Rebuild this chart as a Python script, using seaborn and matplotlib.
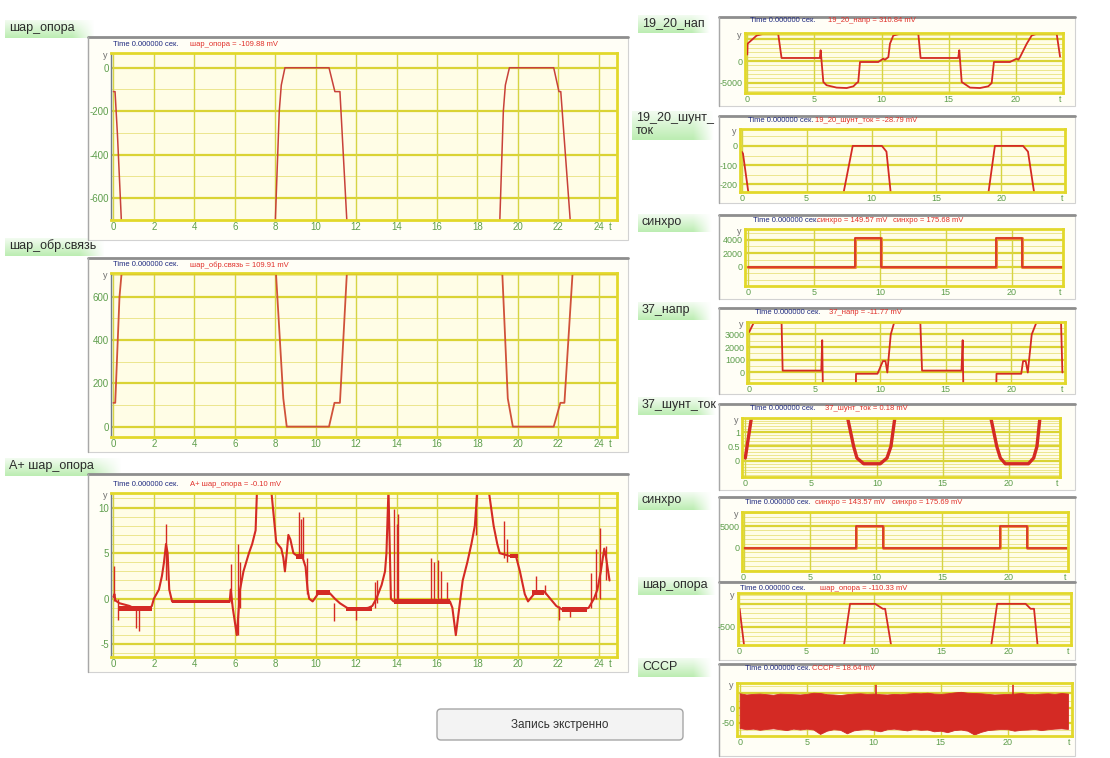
import numpy as np
import matplotlib
matplotlib.use("Agg")
import matplotlib.pyplot as plt
import seaborn as sns
from matplotlib.patches import Rectangle, FancyBboxPatch

# --- signal values (time in s, value in mV) ---
shar_t = [0, 0.08, 0.2, 0.4, 8.0, 8.2, 8.3, 8.48, 10.66, 10.95, 11.2, 11.55,
          19.1, 19.28, 19.38, 19.58, 21.77, 22.03, 22.12, 22.6]
shar_v = [-110, -110, -310, -720, -720, -200, -80, 0, 0, -110, -110, -720,
          -720, -200, -80, 0, 0, -110, -110, -720]

obr_t = [0, 0.09, 0.3, 0.4, 8.04, 8.4, 8.57, 10.66, 10.93, 11.2, 11.54,
         19.23, 19.5, 19.75, 21.77, 22.1, 22.3, 22.7, 24.9]
obr_v = [110, 110, 600, 705, 705, 130, 0, 0, 110, 110, 705,
         705, 130, 0, 0, 110, 110, 705, 705]

aplus_t = [0, 0.05, 0.1, 0.3, 0.8, 1.15, 1.75, 1.9, 2.0, 2.25,
           2.4, 2.5, 2.6, 2.68, 2.76, 2.9, 5.75, 5.8, 5.9, 6.1,
           6.2, 6.26, 6.43, 6.7, 6.86, 7.03, 7.1, 7.8, 8.05, 8.3,
           8.4, 8.48, 8.57, 8.65, 8.75, 8.9, 9.08, 9.33, 9.5, 9.6,
           9.68, 9.85, 10.2, 10.7, 10.95, 11.2, 11.55, 11.9, 12.6, 12.8,
           13.0, 13.26, 13.43, 13.5, 13.6, 13.72, 13.85, 16.64, 16.76, 16.93,
           17.1, 17.27, 17.5, 17.7, 17.87, 18.0, 18.55, 18.8, 18.98, 19.1,
           19.57, 19.9, 20.1, 20.34, 20.5, 20.9, 21.3, 21.6, 21.9, 22.2,
           23.2, 23.5, 23.76, 23.93, 24.1, 24.27, 24.36, 24.53]
aplus_v = [0.2, 0.5, -0.2, -0.5, -0.8, -1.2, -1.1, -0.8, 0, 1,
           2.5, 4, 6, 5, 1, -0.3, -0.3, 1.0, -1, -4,
           -1, 1, 3, 5, 6, 7.5, 12, 12, 6.2, 5.5,
           4.5, 3, 5, 7, 6.5, 5, 4.7, 4.7, 3.5, 1,
           0, -0.3, 0.8, 0.6, 0, -0.5, -1, -1.2, -1.0, -0.8,
           0, 1.5, 3, 5, 12, 0, -0.3, -0.3, -1, -4,
           -1, 2, 4, 6, 8, 12, 12, 8, 6, 5,
           4.7, 4.7, 3, 0.5, -0.3, 0.8, 0.8, 0, -0.8, -1.2,
           -1.2, -1, 0, 1, 3, 5.5, 4.5, 2]
# spikes on the A+ trace
spk_t = [0.05, 0.25, 1.1, 1.25, 2.62, 5.82, 6.15, 6.25, 9.2, 9.28,
         9.35, 9.55, 10.9, 12.0, 12.95, 13.05, 13.88, 14.0, 14.08, 15.7,
         15.85, 16.05, 16.2, 16.5, 19.3, 19.45, 20.9, 21.35, 22.05, 22.6,
         23.6, 23.85, 24.05, 24.35, 17.95]
spk_lo = [-0.3, -2.3, -3.2, -3.5, 2.0, -0.5, -4.0, -1.0, 4.5, 4.5,
          4.5, 0.5, -2.5, -2.3, -1.0, -0.5, -0.3, -0.3, -0.3, -0.3,
          -0.3, -0.3, -0.3, -0.3, 4.5, 4.0, 0.5, 0.5, -2.3, -2.0,
          -1.0, 0.0, 0.0, 2.0, 7.0]
spk_hi = [3.6, 0.0, -1.0, -1.0, 8.2, 3.8, 6.0, 4.0, 9.5, 8.8,
          9.0, 4.5, -0.5, -1.0, 1.8, 2.0, 9.8, 8.2, 9.3, 4.5,
          4.0, 4.2, 3.0, 1.8, 8.5, 6.5, 2.5, 1.5, -0.8, -1.0,
          2.8, 5.5, 7.8, 5.8, 11.6]
# noisy flat stretches: start, end, low, high
band_t0 = [0.3, 2.9, 9.05, 10.0, 11.5, 13.85, 19.6, 20.7, 22.2]
band_t1 = [1.9, 5.75, 9.4, 10.7, 12.8, 16.64, 20.0, 21.3, 23.4]
band_lo = [-1.4, -0.5, 4.4, 0.4, -1.4, -0.55, 4.45, 0.45, -1.45]
band_hi = [-0.8, -0.1, 4.9, 0.9, -0.9, -0.05, 4.95, 0.95, -0.95]

n1920_t = [0, 0.02, 0.7, 1.2, 2.3, 2.55, 5.4, 5.46, 5.66, 5.9,
           6.65, 7.4, 7.9, 8.14, 8.26, 8.39, 9.75, 10.12, 10.25, 10.5,
           10.62, 10.87, 11.36, 12.73, 12.9, 15.7, 15.78, 15.96, 16.58, 17.32,
           17.94, 18.19, 18.36, 19.55, 20.05, 20.18, 20.3, 20.8, 21.17, 21.54,
           23.03, 23.28]
n1920_v = [1500, 4000, 5900, 6300, 6300, 700, 700, 2500, -4850, -5600,
           -6150, -6250, -5850, -5100, -4850, -230, -230, 540, 300, 900,
           4000, 5900, 6300, 6300, 700, 700, 2500, -4850, -6150, -6250,
           -5850, -5100, -230, -230, 540, 300, 900, 4000, 5900, 6300,
           6300, 1000]

sh1920_t = [0, 0.1, 0.55, 7.8, 8.55, 10.8, 11.15, 11.5, 18.97, 19.5, 21.67, 22.05, 22.56]
sh1920_v = [-30, -40, -260, -260, 0, 0, -30, -260, -260, 0, 0, -30, -260]

sync1_t = [0, 8.1, 8.1, 10.1, 10.1, 18.8, 18.8, 20.8, 20.8, 24]
sync1_v = [0, 0, 4200, 4200, 0, 0, 4200, 4200, 0, 0]

n37_t = [0, 0.33, 2.47, 2.55, 5.5, 5.57, 5.67, 8.1, 8.15, 9.79,
         10.2, 10.4, 10.54, 10.8, 11.05, 13.06, 13.19, 16.2, 16.29, 16.39,
         18.82, 18.87, 20.76, 20.9, 21.1, 21.26, 21.56, 21.9, 23.8, 23.9]
n37_v = [3200, 3900, 3900, 150, 150, 2550, -5000, -5000, -100, -100,
         900, 900, 0, 3000, 3900, 3900, 150, 150, 2550, -5000,
         -5000, -100, -100, 900, 900, 0, 3000, 3900, 3900, 0]

sh37_t = [0, 0.5, 7.72, 8.23, 8.48, 8.99, 10.25, 10.76, 11.06, 11.39,
          18.6, 19.1, 19.37, 19.75, 21.5, 21.9, 22.15, 22.4]
sh37_v = [0.1, 1.6, 1.6, 0.5, 0.1, -0.1, -0.1, 0.1, 0.5, 1.6,
          1.6, 0.5, 0.1, -0.1, -0.1, 0.1, 0.5, 1.6]

sync2_t = [0, 8.5, 8.5, 10.5, 10.5, 19.4, 19.4, 21.4, 21.4, 24.5]
sync2_v = [0, 0, 5000, 5000, 0, 0, 5000, 5000, 0, 0]

shar2_t = [0, 0.05, 0.42, 7.73, 8.23, 10.09, 10.66, 10.83, 11.33,
           18.64, 19.13, 21.24, 21.61, 21.86, 22.16]
shar2_v = [-107, -107, -1000, -1000, 0, 0, -107, -107, -1000,
           -1000, 0, 0, -107, -107, -1000]

cccp_t = np.arange(0, 25, 0.5)
cccp_hi = [50, 46, 48, 49, 47, 45, 49, 48, 47, 46, 48, 52, 51, 47, 46, 44, 47,
           49, 50, 48, 49, 47, 46, 48, 47, 49, 51, 50, 52, 49, 48, 50, 53, 55,
           52, 51, 50, 48, 46, 47, 48, 49, 51, 48, 47, 49, 50, 48, 51, 49]
cccp_lo = [-68, -72, -70, -74, -71, -69, -72, -75, -70, -73, -70, -73, -88, -77,
           -72, -74, -86, -76, -73, -71, -75, -79, -72, -70, -73, -76, -71, -74,
           -73, -79, -77, -82, -75, -73, -77, -90, -81, -75, -73, -71, -72, -77,
           -74, -73, -71, -75, -72, -70, -69, -71]
cccp_spk_t = [10.2, 20.4]

# texts
left_titles = ["шар_опора", "шар_обр.связь", "А+ шар_опора"]
right_titles = ["19_20_нап", "19_20_шунт_\nток", "синхро", "37_напр",
                "37_шунт_ток", "синхро", "шар_опора", "СССР"]
readouts = [["шар_опора = -109.88 mV"], ["шар_обр.связь = 109.91 mV"],
            ["А+ шар_опора = -0.10 mV"], ["19_20_напр = 310.84 mV"],
            ["19_20_шунт_ток = -28.79 mV"],
            ["синхро = 149.57 mV", "синхро = 175.68 mV"],
            ["37_напр = -11.77 mV"], ["37_шунт_ток = 0.18 mV"],
            ["синхро = 143.57 mV", "синхро = 175.69 mV"],
            ["шар_опора = -110.33 mV"], ["СССР = 18.64 mV"]]
time_text = "Time 0.000000 сек."
button_text = "Запись экстренно"

W, H = 1110, 758
sns.set_theme(style="white")
plt.rcParams['font.family'] = ['Liberation Sans Narrow', 'Liberation Sans', 'DejaVu Sans']

fig = plt.figure(figsize=(W / 100, H / 100), dpi=100)
fig.patch.set_facecolor('white')

# background layer in pixel coordinates
bg = fig.add_axes([0, 0, 1, 1])
bg.axis('off')
bg.set_zorder(0)

CREAM = '#FFFDE6'
MAJOR = '#DAD334'
MINOR = '#ECE68E'
VGRID = '#D6D444'
TICKC = '#5E9E4C'
RED = '#D42A24'
ORANGE = '#EE8A3A'


def label_box(x0, y0, x1, y1, text):
    g = np.zeros((20, 100, 4))
    g[..., 0], g[..., 1], g[..., 2] = 0.74, 0.93, 0.70
    fade = np.clip((1 - np.linspace(0, 1, 100)) / 0.25, 0, 1)
    g[..., 3] = np.linspace(0.2, 1, 20)[:, None] * fade[None, :]
    bg.imshow(g, extent=(x0, x1, y1, y0), aspect='auto', zorder=1)
    bg.text(x0 + 4, (y0 + y1) / 2 - 1, text, fontsize=9, color='#2B2B2B',
            va='center', ha='left', zorder=2, linespacing=1.05)


def frame(x0, y0, x1, y1):
    bg.add_patch(Rectangle((x0, y0), x1 - x0, y1 - y0, facecolor='#FFFEF6',
                           edgecolor='#D2D2D2', lw=0.8, zorder=1))
    bg.plot([x0, x1], [y0, y0], color='#8E8E8E', lw=2, zorder=2)
    bg.plot([x0, x0], [y0, y1], color='#A8A8A8', lw=1, zorder=2)


def header(x, y, red_x, texts):
    bg.text(x, y, time_text, fontsize=5.5, color='#1F2A80', va='center', zorder=3)
    for rx, tx in zip(red_x, texts):
        bg.text(rx, y, tx, fontsize=5.5, color='#E0302A', va='center', zorder=3)


def px_axes(rect):
    x0, y0, x1, y1 = rect
    ax = fig.add_axes([x0 / W, 1 - y1 / H, (x1 - x0) / W, (y1 - y0) / H])
    ax.set_zorder(2)
    bg.text(x0 - 8, y0 + 5, 'y', fontsize=6.5, color='#707070', zorder=3)
    return ax


def setup(ax, xlim, ylim, xticks, xlabels, yticks, ylabels, ymajor, ystep, xgrid,
          left_dark=False, fs=7):
    ax.set_facecolor(CREAM)
    for v in np.arange(np.ceil(ylim[0] / ystep) * ystep, ylim[1], ystep):
        ax.axhline(v, color=MINOR, lw=0.7, zorder=0)
    for v in ymajor:
        ax.axhline(v, color=MAJOR, lw=1.6, zorder=0.5)
    for v in xgrid:
        ax.axvline(v, color=VGRID, lw=1.0, zorder=0.5)
    ax.set_xlim(xlim)
    ax.set_ylim(ylim)
    ax.set_xticks(xticks, xlabels)
    ax.set_yticks(yticks, ylabels)
    ax.tick_params(length=0, labelsize=fs, labelcolor=TICKC, pad=1.5)
    for s in ax.spines.values():
        s.set_visible(True)
        s.set_color('#E2D82A')
        s.set_linewidth(2)
    if left_dark:
        ax.spines['left'].set_color('#6E7C8C')
        ax.spines['left'].set_linewidth(1)
    ax.set_xlabel('')
    ax.set_ylabel('')


def trace(ax, t, v, color, lw):
    sns.lineplot(x=t, y=v, ax=ax, color=color, linewidth=lw,
                 estimator=None, sort=False, legend=False)


# ---------------- left column ----------------
left_x = list(range(0, 25, 2)) + [24.55]
left_xl = [str(v) for v in range(0, 25, 2)] + ['t']
left_xlim = (-0.12, 24.9)

label_box(5, 20, 95, 38, left_titles[0])
label_box(5, 238, 105, 256, left_titles[1])
label_box(5, 458, 122, 476, left_titles[2])
frame(88, 37, 628, 240)
frame(88, 258, 628, 452)
frame(88, 474, 628, 672)
header(113, 44, [190], readouts[0])
header(113, 265, [190], readouts[1])
header(113, 484, [190], readouts[2])

ax = px_axes((111, 53, 617, 220))
trace(ax, shar_t, shar_v, '#C8413A', 1.1)
setup(ax, left_xlim, (-702, 68), left_x, left_xl, [0, -200, -400, -600],
      ['0', '-200', '-400', '-600'], [0, -200, -400, -600], 100, range(0, 25, 2), True)

ax = px_axes((111, 273, 617, 437))
trace(ax, obr_t, obr_v, '#D0523A', 1.3)
setup(ax, left_xlim, (-48, 710), left_x, left_xl, [0, 200, 400, 600],
      ['0', '200', '400', '600'], [0, 200, 400, 600], 100, range(0, 25, 2), True)

ax = px_axes((111, 493, 617, 657))
for a, b, lo, hi in zip(band_t0, band_t1, band_lo, band_hi):
    ax.fill_between([a, b], [lo, lo], [hi, hi], color=RED, lw=0, zorder=2)
ax.vlines(spk_t, spk_lo, spk_hi, color=RED, lw=1.0, zorder=2)
trace(ax, aplus_t, aplus_v, RED, 1.5)
setup(ax, left_xlim, (-6.4, 11.6), left_x, left_xl, [10, 5, 0, -5],
      ['10', '5', '0', '-5'], [10, 5, 0, -5], 1, range(0, 25, 2), True)

# ---------------- right column ----------------
right_boxes = [(638, 15, 710, 33), (632, 111, 714, 140), (638, 214, 712, 232),
               (638, 302, 712, 320), (638, 397, 716, 415), (638, 492, 712, 510),
               (638, 577, 716, 595), (638, 658, 712, 677)]
right_frames = [(719, 17, 1075, 106), (719, 116, 1075, 203), (719, 215, 1075, 299),
                (719, 308, 1075, 394), (719, 404, 1075, 490), (719, 497, 1075, 581),
                (719, 582, 1075, 660), (719, 664, 1075, 756)]
right_rects = [(745, 33, 1063, 93), (740, 129, 1065, 192), (745, 229, 1063, 286),
               (747, 322, 1065, 383), (742, 418, 1060, 477), (742, 512, 1068, 571),
               (738, 593, 1071, 645), (737, 683, 1072, 736)]
hdr = [(750, 20, [828]), (748, 120, [815]), (753, 220, [817, 893]),
       (755, 313, [829]), (750, 408, [825]), (745, 502, [815, 892]),
       (740, 588, [820]), (745, 668, [812])]

for i in range(8):
    label_box(*right_boxes[i], right_titles[i])
    frame(*right_frames[i])
    header(hdr[i][0], hdr[i][1], hdr[i][2], readouts[3 + i])

right_spec = [
    dict(xlim=(-0.17, 23.5), ylim=(-7400, 6480), yt=[0, -5000], yl=['0', '-5000'],
         maj=[-5000, 0, 5000], step=1000),
    dict(xlim=(-0.13, 24.9), ylim=(-240, 88), yt=[0, -100, -200], yl=['0', '-100', '-200'],
         maj=[0, -100, -200], step=50),
    dict(xlim=(-0.25, 23.9), ylim=(-2900, 5600), yt=[0, 2000, 4000], yl=['0', '2000', '4000'],
         maj=[0, 2000, 4000], step=1000),
    dict(xlim=(-0.17, 24.1), ylim=(-830, 3985), yt=[0, 1000, 2000, 3000],
         yl=['0', '1000', '2000', '3000'], maj=[0, 1000, 2000, 3000], step=500),
    dict(xlim=(-0.25, 23.9), ylim=(-0.56, 1.49), yt=[0, 0.5, 1], yl=['0', '0.5', '1'],
         maj=[0, 0.5, 1], step=0.1),
    dict(xlim=(-0.12, 24.5), ylim=(-5250, 8200), yt=[0, 5000], yl=['0', '5000'],
         maj=[0, 5000], step=1000),
    dict(xlim=(-0.07, 24.6), ylim=(-891, 235), yt=[-500], yl=['-500'],
         maj=[0, -500], step=100),
    dict(xlim=(-0.2, 24.8), ylim=(-95, 85), yt=[0, -50], yl=['0', '-50'],
         maj=[-50, 0, 50], step=25),
]

axes_r = [px_axes(r) for r in right_rects]
trace(axes_r[0], n1920_t, n1920_v, RED, 1.3)
trace(axes_r[1], sh1920_t, sh1920_v, RED, 1.3)
trace(axes_r[2], sync1_t, sync1_v, ORANGE, 2.2)
trace(axes_r[2], sync1_t, sync1_v, RED, 1.1)
trace(axes_r[3], n37_t, n37_v, RED, 1.3)
trace(axes_r[4], sh37_t, sh37_v, RED, 2.4)
trace(axes_r[5], sync2_t, sync2_v, ORANGE, 2.0)
trace(axes_r[5], sync2_t, sync2_v, RED, 1.1)
trace(axes_r[6], shar2_t, shar2_v, RED, 1.3)
axes_r[7].fill_between(cccp_t, cccp_lo, cccp_hi, color=RED, lw=0.6, zorder=2)
axes_r[7].vlines(cccp_spk_t, 40, 80, color=RED, lw=1.2, zorder=2)

for ax, sp in zip(axes_r, right_spec):
    xt = [0, 5, 10, 15, 20, sp['xlim'][1] - 0.2]
    setup(ax, sp['xlim'], sp['ylim'], xt, ['0', '5', '10', '15', '20', 't'],
          sp['yt'], sp['yl'], sp['maj'], sp['step'], [0, 5, 10, 15, 20], fs=6.5)

# emergency recording button
bg.add_patch(FancyBboxPatch((437, 709), 246, 31, boxstyle="round,pad=0,rounding_size=4",
                            facecolor='#F3F3F3', edgecolor='#A6A6A6', lw=1, zorder=2))
bg.text(560, 725, button_text, fontsize=8.5, color='#333333', ha='center', va='center', zorder=3)

bg.set_xlim(0, W)
bg.set_ylim(H, 0)

fig.savefig('out.png', dpi=100)
